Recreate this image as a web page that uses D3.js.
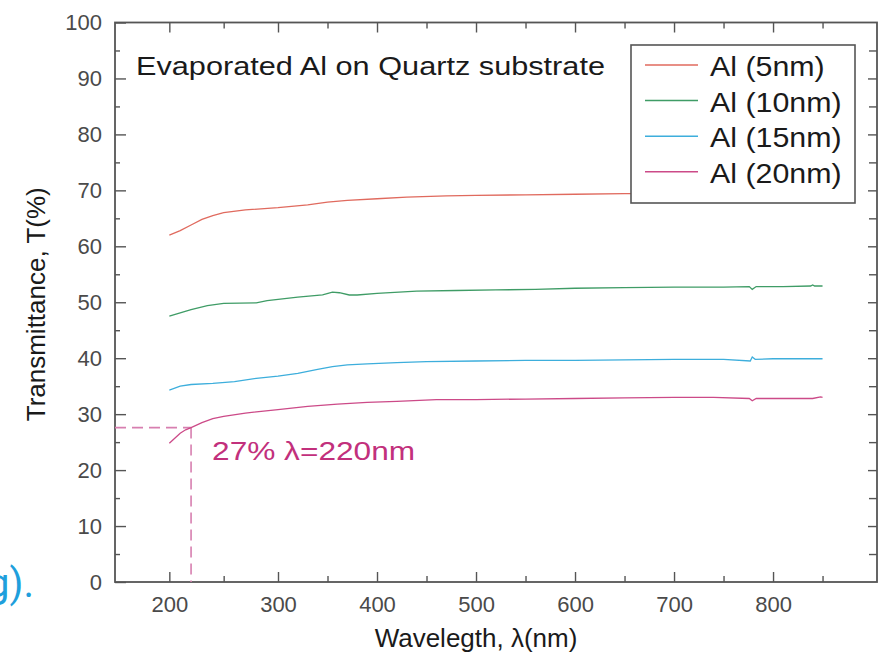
<!DOCTYPE html>
<html>
<head>
<meta charset="utf-8">
<script src="https://d3js.org/d3.v7.min.js"></script>
<style>
  body { margin: 0; background: #fff; }
  text { font-family: "Liberation Sans", Arial, sans-serif; }
</style>
</head>
<body>
<svg id="chart"></svg>
<script>
// ---- data ----
const seriesNames = ["Al (5nm)", "Al (10nm)", "Al (15nm)", "Al (20nm)"];
const seriesColors = ["#e06a5e", "#3f9c66", "#3daedc", "#cc4a88"];

const wl5 = [200, 210, 220, 230, 240, 250, 270, 300, 330, 350, 370, 400, 430, 470, 500, 550, 600, 650, 700, 740, 760, 775, 779, 783, 800, 830, 850];
const t5  = [62.0, 62.8, 63.8, 64.8, 65.5, 66.0, 66.5, 66.9, 67.4, 67.9, 68.2, 68.5, 68.8, 69.0, 69.1, 69.2, 69.3, 69.4, 69.4, 69.5, 69.5, 69.3, 68.9, 69.4, 69.5, 69.5, 69.6];

const wl10 = [200, 210, 220, 235, 250, 280, 290, 320, 345, 355, 362, 372, 380, 400, 440, 480, 520, 560, 600, 650, 700, 750, 776, 779, 783, 810, 838, 840, 842, 850];
const t10  = [47.5, 48.1, 48.7, 49.4, 49.8, 49.9, 50.3, 50.9, 51.3, 51.8, 51.7, 51.3, 51.3, 51.6, 52.0, 52.1, 52.2, 52.3, 52.5, 52.6, 52.7, 52.7, 52.8, 52.3, 52.8, 52.8, 52.9, 53.1, 52.9, 52.9];

const wl15 = [200, 210, 220, 240, 260, 280, 300, 320, 340, 355, 370, 390, 420, 450, 500, 550, 600, 650, 700, 750, 777, 779, 782, 800, 850];
const t15  = [34.3, 35.0, 35.3, 35.5, 35.8, 36.4, 36.8, 37.3, 38.0, 38.5, 38.8, 39.0, 39.2, 39.4, 39.5, 39.6, 39.6, 39.7, 39.8, 39.8, 39.5, 40.2, 39.8, 39.9, 39.9];

const wl20 = [200, 205, 210, 215, 220, 230, 240, 250, 270, 300, 330, 360, 390, 420, 460, 500, 550, 600, 650, 700, 740, 776, 779, 783, 800, 840, 848, 850];
const t20  = [24.8, 25.7, 26.6, 27.2, 27.6, 28.5, 29.2, 29.6, 30.2, 30.8, 31.4, 31.8, 32.1, 32.3, 32.6, 32.6, 32.7, 32.8, 32.9, 33.0, 33.0, 32.8, 32.4, 32.8, 32.8, 32.8, 33.1, 33.0];

const xMajorTicks = [200, 300, 400, 500, 600, 700, 800];
const xMinorTicks = [250, 350, 450, 550, 650, 750, 850];
const yMajorTicks = [0, 10, 20, 30, 40, 50, 60, 70, 80, 90, 100];
const yMinorTicks = [5, 15, 25, 35, 45, 55, 65, 75, 85, 95];

const markLambda = 220;
const markT = 27.6;
const markLabel = "27% \u03bb=220nm";

const titleText = "Evaporated Al on Quartz substrate";
const xLabel = "Wavelegth, \u03bb(nm)";
const yLabel = "Transmittance, T(%)";
const sideText = "g).";

// ---- drawing ----
(function() {
  const width = 879;
  const height = 661;
  const axisColor = "#555";

  const svg = d3.select("#chart")
      .attr("width", width)
      .attr("height", height);

  // the picture's x axis is slightly uneven, so a two-part scale follows it
  const x = d3.scaleLinear().domain([150, 300, 905]).range([115, 278, 877]);
  const y = d3.scaleLinear().domain([0, 100]).range([582, 22.5]);

  const left = x(150), right = x(905), top = y(100), bottom = y(0);

  // side text cut off at the left edge (as in the source)
  svg.append("text")
      .attr("x", 34).attr("y", 597)
      .attr("text-anchor", "end")
      .attr("fill", "#1f9fdc")
      .style("font-family", "Roboto, 'Open Sans', sans-serif")
      .style("font-size", "40px")
      .text(sideText);

  function styleAxis(g, labelled) {
    g.select(".domain").remove();
    g.selectAll(".tick line").attr("stroke", axisColor).attr("stroke-width", 1.4);
    if (labelled) {
      g.selectAll(".tick text")
          .attr("fill", "#4a4a4a")
          .style("font-size", "22px");
    } else {
      g.selectAll(".tick text").remove();
    }
  }

  // bottom
  svg.append("g").attr("transform", `translate(0,${bottom})`)
      .call(d3.axisBottom(x).tickValues(xMajorTicks).tickSizeInner(-10).tickSizeOuter(0).tickPadding(14))
      .call(g => styleAxis(g, true));
  svg.append("g").attr("transform", `translate(0,${bottom})`)
      .call(d3.axisBottom(x).tickValues(xMinorTicks).tickSizeInner(-6).tickSizeOuter(0))
      .call(g => styleAxis(g, false));
  // top
  svg.append("g").attr("transform", `translate(0,${top})`)
      .call(d3.axisTop(x).tickValues(xMajorTicks).tickSizeInner(-10).tickSizeOuter(0))
      .call(g => styleAxis(g, false));
  svg.append("g").attr("transform", `translate(0,${top})`)
      .call(d3.axisTop(x).tickValues(xMinorTicks).tickSizeInner(-6).tickSizeOuter(0))
      .call(g => styleAxis(g, false));
  // left
  svg.append("g").attr("transform", `translate(${left},0)`)
      .call(d3.axisLeft(y).tickValues(yMajorTicks).tickSizeInner(-11).tickSizeOuter(0).tickPadding(13))
      .call(g => styleAxis(g, true));
  svg.append("g").attr("transform", `translate(${left},0)`)
      .call(d3.axisLeft(y).tickValues(yMinorTicks).tickSizeInner(-5).tickSizeOuter(0))
      .call(g => styleAxis(g, false));
  // right
  svg.append("g").attr("transform", `translate(${right},0)`)
      .call(d3.axisRight(y).tickValues(yMajorTicks.slice(1, -1)).tickSizeInner(-9).tickSizeOuter(0))
      .call(g => styleAxis(g, false));
  svg.append("g").attr("transform", `translate(${right},0)`)
      .call(d3.axisRight(y).tickValues(yMinorTicks).tickSizeInner(-8).tickSizeOuter(0))
      .call(g => styleAxis(g, false));

  // frame
  svg.append("rect")
      .attr("x", left).attr("y", top)
      .attr("width", right - left).attr("height", bottom - top)
      .attr("fill", "none")
      .attr("stroke", axisColor)
      .attr("stroke-width", 1.8);

  // axis titles
  svg.append("text")
      .attr("x", x(500)).attr("y", 647)
      .attr("text-anchor", "middle")
      .attr("fill", "#1a1a1a")
      .style("font-size", "26px")
      .text(xLabel);
  svg.append("text")
      .attr("transform", `translate(45,${y(50) + 2}) rotate(-90)`)
      .attr("text-anchor", "middle")
      .attr("fill", "#1a1a1a")
      .style("font-size", "26px")
      .text(yLabel);

  // reference lines
  const dashColor = "#d77fb0";
  svg.append("line")
      .attr("x1", left).attr("x2", x(markLambda))
      .attr("y1", y(markT)).attr("y2", y(markT))
      .attr("stroke", dashColor).attr("stroke-width", 1.6)
      .attr("stroke-dasharray", "11,6");
  svg.append("line")
      .attr("x1", x(markLambda)).attr("x2", x(markLambda))
      .attr("y1", y(markT)).attr("y2", bottom)
      .attr("stroke", dashColor).attr("stroke-width", 1.6)
      .attr("stroke-dasharray", "11,6");

  // curves
  const series = [[wl5, t5], [wl10, t10], [wl15, t15], [wl20, t20]];
  const line = d3.line().x(d => x(d[0])).y(d => y(d[1]));
  series.forEach(function(s, i) {
    const pts = s[0].map((w, j) => [w, s[1][j]]);
    svg.append("path")
        .datum(pts)
        .attr("d", line)
        .attr("fill", "none")
        .attr("stroke", seriesColors[i])
        .attr("stroke-width", 1.3);
  });

  // annotation
  svg.append("text")
      .attr("x", x(markLambda) + 21).attr("y", 460)
      .attr("fill", "#c2307c")
      .attr("textLength", 203)
      .attr("lengthAdjust", "spacingAndGlyphs")
      .style("font-size", "25px")
      .text(markLabel);

  // title
  svg.append("text")
      .attr("x", 136).attr("y", 75)
      .attr("fill", "#1a1a1a")
      .attr("textLength", 469)
      .attr("lengthAdjust", "spacingAndGlyphs")
      .style("font-size", "26.5px")
      .text(titleText);

  // legend
  const legend = svg.append("g");
  legend.append("rect")
      .attr("x", 631).attr("y", 45)
      .attr("width", 224).attr("height", 158)
      .attr("fill", "#fff")
      .attr("stroke", axisColor)
      .attr("stroke-width", 1.6);
  seriesNames.forEach(function(name, i) {
    const base = 76 + i * 35.6;
    legend.append("line")
        .attr("x1", 645).attr("x2", 698)
        .attr("y1", base - 11).attr("y2", base - 11)
        .attr("stroke", seriesColors[i])
        .attr("stroke-width", 1.5);
    legend.append("text")
        .attr("transform", `translate(710,${base}) scale(1.125,1)`)
        .attr("fill", "#1a1a1a")
        .style("font-size", "27px")
        .text(name);
  });
})();
</script>
</body>
</html>
